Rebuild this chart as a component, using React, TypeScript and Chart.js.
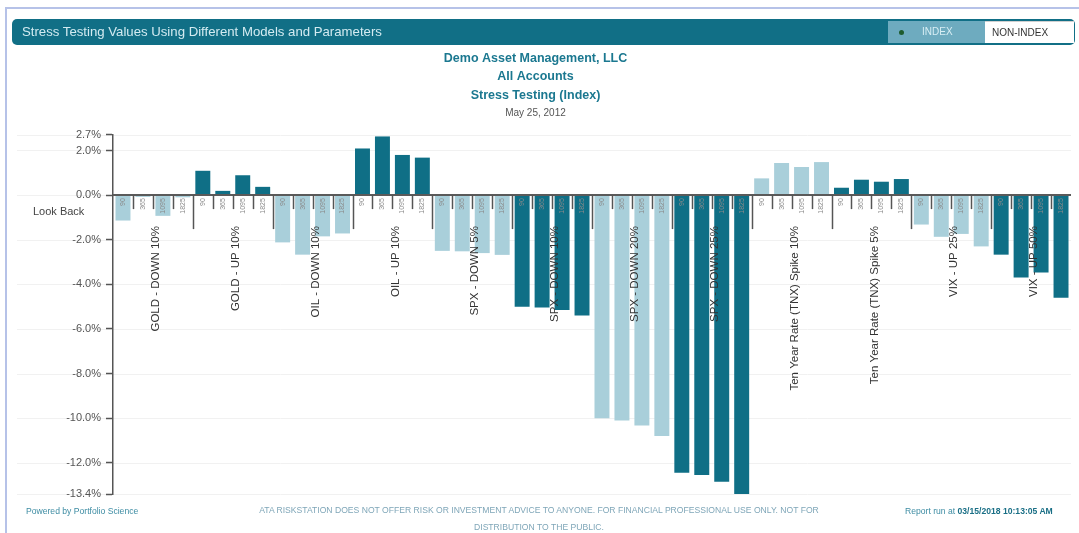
import React, { useEffect, useRef } from 'react';
import { Chart, registerables } from 'chart.js';

Chart.register(...registerables);

const FONT = '"Liberation Sans", Arial, Helvetica, sans-serif';
const LIGHT = '#a9cfda';
const DARK = '#0f6f86';

const titleLines = ['Demo Asset Management, LLC', 'All Accounts', 'Stress Testing (Index)'];
const subtitleText = 'May 25, 2012';

const lookBacks = ['90', '365', '1095', '1825'];
const scenarios = [
  'GOLD - DOWN 10%',
  'GOLD - UP 10%',
  'OIL - DOWN 10%',
  'OIL - UP 10%',
  'SPX - DOWN 5%',
  'SPX - DOWN 10%',
  'SPX - DOWN 20%',
  'SPX - DOWN 25%',
  'Ten Year Rate (TNX) Spike 10%',
  'Ten Year Rate (TNX) Spike 5%',
  'VIX - UP 25%',
  'VIX - UP 50%',
];

const goldDown10 = [-1.14, -0.08, -0.93, -0.1];
const goldUp10 = [1.09, 0.19, 0.89, 0.37];
const oilDown10 = [-2.12, -2.67, -1.85, -1.72];
const oilUp10 = [2.09, 2.63, 1.8, 1.68];
const spxDown5 = [-2.5, -2.52, -2.6, -2.68];
const spxDown10 = [-5.0, -5.04, -5.15, -5.4];
const spxDown20 = [-10.0, -10.1, -10.33, -10.8];
const spxDown25 = [-12.45, -12.55, -12.85, -13.4];
const tnxSpike10 = [0.75, 1.44, 1.26, 1.48];
const tnxSpike5 = [0.33, 0.69, 0.6, 0.72];
const vixUp25 = [-1.32, -1.87, -1.74, -2.3];
const vixUp50 = [-2.67, -3.69, -3.47, -4.6];

const scenarioValues = [
  goldDown10, goldUp10, oilDown10, oilUp10, spxDown5, spxDown10,
  spxDown20, spxDown25, tnxSpike10, tnxSpike5, vixUp25, vixUp50,
];

const yTicks = [2.7, 2.0, 0, -2, -4, -6, -8, -10, -12, -13.4];
const yMin = -13.4;
const yMax = 2.7;

const lookBackLabel = 'Look Back';

const decorPlugin = {
  id: 'decor',
  beforeDraw(chart: any) {
    const { ctx, chartArea } = chart;
    const y = chart.scales.y;
    ctx.save();
    ctx.strokeStyle = '#f1f1f1';
    ctx.lineWidth = 1;
    y.ticks.forEach((t: any) => {
      const py = Math.round(y.getPixelForValue(t.value)) + 0.5;
      ctx.beginPath();
      ctx.moveTo(17, py);
      ctx.lineTo(chartArea.right, py);
      ctx.stroke();
    });
    ctx.restore();
  },
  afterDatasetsDraw(chart: any) {
    const { ctx, chartArea } = chart;
    const x = chart.scales.x;
    const y = chart.scales.y;
    const y0 = y.getPixelForValue(0);
    const n = chart.data.labels.length;
    const per = lookBacks.length;
    ctx.save();

    // zero line
    ctx.strokeStyle = '#5a5a5a';
    ctx.lineWidth = 2;
    ctx.beginPath();
    ctx.moveTo(chartArea.left, y0);
    ctx.lineTo(chartArea.right, y0);
    ctx.stroke();

    // separators
    ctx.strokeStyle = '#555';
    ctx.lineWidth = 1.5;
    for (let i = 0; i < n - 1; i++) {
      const bx = Math.round((x.getPixelForValue(i) + x.getPixelForValue(i + 1)) / 2) + 0.5;
      const groupEnd = (i + 1) % per === 0;
      ctx.beginPath();
      ctx.moveTo(bx, y0);
      ctx.lineTo(bx, y0 + (groupEnd ? 34 : 14));
      ctx.stroke();
    }

    // look-back tick labels
    ctx.fillStyle = '#8a8a8a';
    ctx.font = `7px ${FONT}`;
    ctx.textAlign = 'right';
    ctx.textBaseline = 'middle';
    for (let i = 0; i < n; i++) {
      const px = x.getPixelForValue(i);
      ctx.save();
      ctx.translate(px, y0 + 3);
      ctx.rotate(-Math.PI / 2);
      ctx.fillText(String(chart.data.labels[i]), 0, 0);
      ctx.restore();
    }

    // scenario labels
    ctx.fillStyle = '#333';
    ctx.font = `11.5px ${FONT}`;
    scenarios.forEach((name, g) => {
      const px = (x.getPixelForValue(g * per + 1) + x.getPixelForValue(g * per + 2)) / 2 + 3;
      ctx.save();
      ctx.translate(px, y0 + 31);
      ctx.rotate(-Math.PI / 2);
      ctx.fillText(name, 0, 0);
      ctx.restore();
    });

    // Look Back label
    ctx.fillStyle = '#444';
    ctx.font = `11px ${FONT}`;
    ctx.textAlign = 'left';
    ctx.fillText(lookBackLabel, 33, y0 + 17);

    ctx.restore();
  },
};

function ChartCanvas() {
  const ref = useRef<HTMLCanvasElement | null>(null);
  useEffect(() => {
    if (!ref.current) return;
    const labels = scenarios.flatMap(() => lookBacks);
    const values = scenarioValues.flat();
    const colors = scenarios.flatMap((_, g) => lookBacks.map(() => (g % 2 === 0 ? LIGHT : DARK)));
    const chart = new Chart(ref.current, {
      type: 'bar',
      data: {
        labels,
        datasets: [
          {
            data: values,
            backgroundColor: colors,
            borderWidth: 0,
            barPercentage: 0.75,
            categoryPercentage: 1.0,
          },
        ],
      },
      options: {
        responsive: false,
        animation: false,
        devicePixelRatio: 1,
        layout: { padding: { top: 49, bottom: 39, left: 0, right: 8 } },
        plugins: {
          legend: { display: false },
          tooltip: { enabled: false },
          title: {
            display: true,
            text: titleLines,
            color: '#1b7890',
            font: { family: FONT, size: 12.5, weight: 'bold', lineHeight: 1.49 },
            padding: { top: 0, bottom: 0 },
          },
          subtitle: {
            display: true,
            text: subtitleText,
            color: '#555',
            font: { family: FONT, size: 10 },
            padding: { top: 2, bottom: 16 },
          },
        },
        scales: {
          x: {
            type: 'category',
            display: false,
          },
          y: {
            min: yMin,
            max: yMax,
            afterBuildTicks: (scale: any) => {
              scale.ticks = yTicks.map((v) => ({ value: v }));
            },
            afterFit: (scale: any) => {
              scale.width = 113;
            },
            border: { display: true, color: '#555', width: 1.5 },
            grid: {
              drawOnChartArea: false,
              drawTicks: true,
              tickLength: 7,
              tickColor: '#555',
              tickWidth: 1.5,
            },
            ticks: {
              autoSkip: false,
              color: '#555',
              padding: 5,
              font: { family: FONT, size: 11 },
              callback: (v: any) => Number(v).toFixed(1) + '%',
            },
          },
        },
      } as any,
      plugins: [decorPlugin],
    });
    return () => chart.destroy();
  }, []);
  return (
    <canvas
      ref={ref}
      width={1079}
      height={533}
      style={{ position: 'absolute', left: 0, top: 0, width: 1079, height: 533 }}
    />
  );
}

export default function App() {
  const abs: React.CSSProperties = { position: 'absolute', fontFamily: FONT, whiteSpace: 'nowrap' };
  return (
    <div
      style={{
        position: 'absolute',
        left: 0,
        top: 0,
        width: 1079,
        height: 533,
        overflow: 'hidden',
        background: '#fff',
        fontFamily: FONT,
      }}
    >
      <div
        style={{
          position: 'absolute',
          left: 5,
          top: 7,
          width: 1100,
          height: 560,
          borderTop: '2px solid #b6c2e8',
          borderLeft: '2px solid #b6c2e8',
        }}
      />
      <ChartCanvas />
      <div
        style={{
          position: 'absolute',
          left: 12,
          top: 19,
          width: 1063,
          height: 26,
          background: '#116f86',
          borderRadius: 5,
        }}
      />
      <div style={{ ...abs, left: 22, top: 19, height: 26, lineHeight: '26px', fontSize: 13.2, color: '#d3ebf1' }}>
        Stress Testing Values Using Different Models and Parameters
      </div>
      <div
        style={{
          ...abs,
          left: 888,
          top: 21,
          width: 97,
          height: 22,
          background: '#6eabbf',
          fontSize: 10,
          color: '#d8eef4',
          lineHeight: '22px',
        }}
      >
        <span
          style={{
            position: 'absolute',
            left: 11,
            top: 9,
            width: 5,
            height: 5,
            borderRadius: 3,
            background: '#1d5b2e',
          }}
        />
        <span style={{ position: 'absolute', left: 34 }}>INDEX</span>
      </div>
      <div
        style={{
          ...abs,
          left: 985,
          top: 21,
          width: 89,
          height: 22,
          background: '#fff',
          fontSize: 10,
          color: '#333',
          lineHeight: '22px',
          boxSizing: 'border-box',
          borderTop: '1px solid #d0d0d0',
        }}
      >
        <span style={{ position: 'absolute', left: 7 }}>NON-INDEX</span>
      </div>
      <div style={{ ...abs, left: 26, top: 505, fontSize: 8.6, color: '#3d8ca3', lineHeight: '12px' }}>
        Powered by Portfolio Science
      </div>
      <div
        style={{
          ...abs,
          left: 239,
          top: 502,
          width: 600,
          textAlign: 'center',
          fontSize: 8.6,
          lineHeight: '17px',
          color: '#7fa6b8',
        }}
      >
        ATA RISKSTATION DOES NOT OFFER RISK OR INVESTMENT ADVICE TO ANYONE. FOR FINANCIAL PROFESSIONAL USE ONLY. NOT FOR
        <br />
        DISTRIBUTION TO THE PUBLIC.
      </div>
      <div style={{ ...abs, left: 905, top: 505, fontSize: 8.6, color: '#3d8ca3', lineHeight: '12px' }}>
        Report run at <b style={{ color: '#1a6f86' }}>03/15/2018 10:13:05 AM</b>
      </div>
    </div>
  );
}
